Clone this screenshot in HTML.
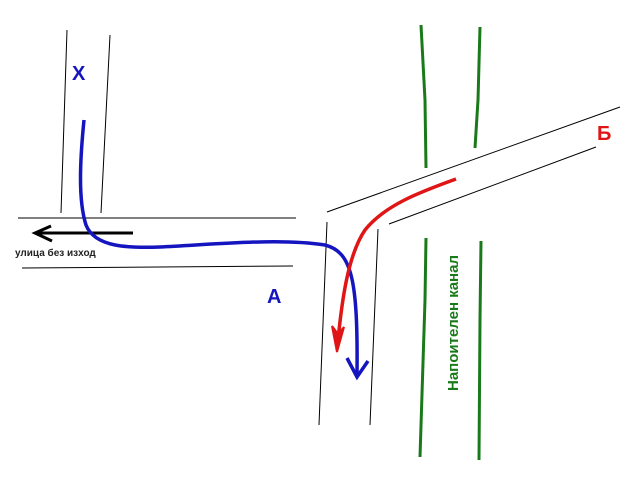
<!DOCTYPE html>
<html><head><meta charset="utf-8"><style>html,body{margin:0;padding:0;background:#fff}svg{display:block}</style></head>
<body>
<svg width="640" height="480" viewBox="0 0 640 480" xmlns="http://www.w3.org/2000/svg">
<rect width="640" height="480" fill="#fff"/>
<g stroke="#000" stroke-width="1" fill="none">
<line x1="67" y1="30" x2="61" y2="213"/>
<line x1="110" y1="35" x2="101" y2="213"/>
<line x1="18" y1="218" x2="296" y2="218"/>
<line x1="22" y1="268" x2="293" y2="266"/>
<line x1="327" y1="222" x2="319" y2="425"/>
<line x1="378" y1="229" x2="370" y2="425"/>
<line x1="327" y1="212" x2="620" y2="107"/>
<line x1="389" y1="224" x2="596" y2="147"/>
</g>
<g stroke="#1a7a1a" stroke-width="3" fill="none">
<path d="M421 25 L425 100 L426 168"/>
<path d="M480 27 L478 100 L475 148"/>
<path d="M426 238 L425 300 L420 457"/>
<path d="M481 241 L480 320 L479 460"/>
</g>
<g stroke="#000" stroke-width="3" fill="none">
<line x1="133" y1="233" x2="36" y2="233"/>
<path d="M51 226 L35 233 L52 241"/>
</g>
<path d="M84 120 C80 160 78 200 86 225 C95 248 130 248 160 247 C220 244 280 238 325 245 C352 252 358 280 357 375" stroke="#1515c0" stroke-width="3.5" fill="none"/>
<path d="M347 358 L357 377 L368 361" stroke="#1515c0" stroke-width="3.5" fill="none"/>
<path d="M456 179 C420 192 385 205 365 230 C348 255 342 300 338 340" stroke="#e01515" stroke-width="3.5" fill="none"/>
<path d="M332 326 L337 352 L344 327 L338 334 Z" fill="#e01515" stroke="#e01515" stroke-width="2"/>
<g font-family="Liberation Sans, sans-serif" font-weight="bold">
<text x="72" y="80" font-size="20" fill="#1515c0">X</text>
<text x="267" y="303" font-size="20" fill="#1515c0">A</text>
<text x="597" y="140" font-size="20" fill="#e01515">Б</text>
<text x="15" y="256" font-size="10" fill="#222">улица без изход</text>
<text transform="translate(458,323) rotate(-90)" text-anchor="middle" font-size="15" fill="#1a7a1a">Напоителен канал</text>
</g>
</svg>
</body></html>
